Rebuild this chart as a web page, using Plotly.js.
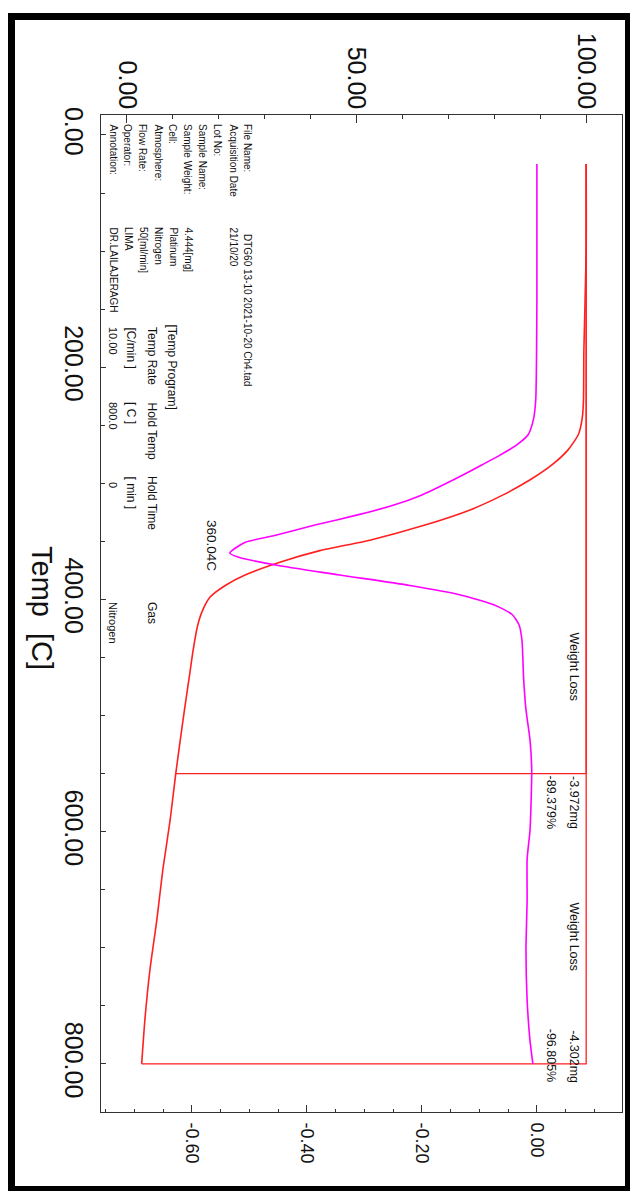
<!DOCTYPE html>
<html><head><meta charset="utf-8">
<script src="https://cdn.plot.ly/plotly-3.0.1.min.js"></script>
<style>
html,body{margin:0;padding:0;background:#fff;}
#wrap{position:relative;width:632px;height:1191px;overflow:hidden;}
#chart{width:632px;height:1191px;}
#frame{position:absolute;left:8px;top:13px;width:622px;height:1178px;box-sizing:border-box;border-style:solid;border-color:#000;border-width:7px 5px 5px 7px;pointer-events:none;}
</style></head><body>
<div id="wrap"><div id="chart"></div><div id="frame"></div></div>
<script>
// ---- data ----
const tgTemp   = [25, 100, 185, 230, 245, 258, 271, 284, 297, 310, 323, 336, 349, 358, 368, 379, 388, 398, 411, 424, 444, 463, 504, 550, 590, 633, 676, 719, 762, 800];
const tgWeight = [100, 100, 99.5, 99.4, 99.1, 98.3, 96.1, 92.6, 87.8, 81.9, 74.7, 64.9, 52.9, 42.0, 33.3, 25.7, 21.4, 18.1, 16.3, 15.3, 14.4, 13.7, 12.2, 10.62, 9.4, 7.8, 6.5, 5.0, 3.9, 3.2];
const dtgTemp  = [25, 142, 228, 245, 258, 267, 276, 284, 297, 310, 319, 327, 336, 345, 351, 360.04, 364, 371, 379, 388, 396, 405, 413, 422, 435, 469, 495, 521, 547, 573, 599, 624, 659, 702, 745, 780, 800];
const dtgValue = [0, 0, -0.002, -0.006, -0.015, -0.035, -0.065, -0.095, -0.145, -0.200, -0.250, -0.310, -0.386, -0.456, -0.508, -0.534, -0.517, -0.447, -0.343, -0.221, -0.134, -0.073, -0.043, -0.031, -0.026, -0.023, -0.019, -0.012, -0.009, -0.010, -0.012, -0.017, -0.017, -0.019, -0.017, -0.012, -0.007];

const tempTicks = [0, 200, 400, 600, 800];
const tempTickLabels = ["0.00", "200.00", "400.00", "600.00", "800.00"];
const weightTicks = [0, 50, 100];
const weightTickLabels = ["0.00", "50.00", "100.00"];
const dtgTicks = [-0.6, -0.4, -0.2, 0];
const dtgTickLabels = ["-0.60", "-0.40", "-0.20", "0.00"];

const lossStartTemp = 25;
const lossStartWeight = 100;
const lossEndTemps = [550, 800];
const lossPercents = [-89.379, -96.805];
const lossMg = ["-3.972mg", "-4.302mg"];
const peakTemp = 360.04;
const peakLabel = "360.04C";

const infoLabels = ["File Name:", "Acquisition Date", "Lot No:", "Sample Name:", "Sample Weight:", "Cell:", "Atmosphere:", "Flow Rate:", "Operator:", "Annotation:"];
const infoValues = ["DTG60 13-10 2021-10-20 Ch4.tad", "21/10/20", "", "", "4.444[mg]", "Platinum", "Nitrogen", "50[ml/min]", "LIMA", "DR.LAILAJERAGH"];
const programTitle = "[Temp Program]";
const programHeaders = ["Temp Rate", "Hold Temp", "Hold Time", "Gas"];
const programUnits = ["[C/min ]", "[ C ]", "[ min ]", ""];
const programValues = ["10.00", "800.0", "0", "Nitrogen"];

// ---- geometry helpers (pixel -> paper) ----
const L = 101, R = 622, T = 115, B = 1112;
const px = v => (v - L) / (R - L);
const py = v => 1 - (v - T) / (B - T);
const FONT = 'Liberation Sans, Arial, sans-serif';

const RED = '#ff2020', MAG = '#ff00ff';
const traces = [
  {x: tgWeight, y: tgTemp, xaxis: 'x', yaxis: 'y', mode: 'lines', line: {color: RED, width: 1.6, shape: 'spline', smoothing: 0.6}, hoverinfo: 'skip'},
  {x: dtgValue, y: dtgTemp, xaxis: 'x2', yaxis: 'y', mode: 'lines', line: {color: MAG, width: 1.6, shape: 'spline', smoothing: 0.6}, hoverinfo: 'skip'}
];
lossEndTemps.forEach((t, i) => {
  traces.push({x: [lossStartWeight, lossStartWeight, lossStartWeight + lossPercents[i]],
               y: [lossStartTemp, t, t], xaxis: 'x', yaxis: 'y', mode: 'lines',
               line: {color: RED, width: 1.3}, hoverinfo: 'skip'});
});

const ann = [];
const txt = (text, xp, yp, size, opts) => ann.push(Object.assign({
  text: text, xref: 'paper', yref: 'paper', x: px(xp), y: py(yp), textangle: 90,
  xanchor: 'center', yanchor: 'top', showarrow: false,
  font: {family: FONT, size: size, color: '#111'}
}, opts || {}));

// axis title
txt("Temp&nbsp;&nbsp;[C]", 42, 608, 29, {yanchor: 'middle'});
// info block
const infoX0 = 248, infoDX = 15;
infoLabels.forEach((s, i) => txt(s, infoX0 - i * infoDX, 122, 10));
infoValues.forEach((s, i) => { if (s) txt(s, infoX0 - i * infoDX, i === 0 ? 232 : 225, 10); });
// temperature program block
txt(programTitle, 172, 322, 12);
const progY = [325, 400, 474, 600];
programHeaders.forEach((s, i) => txt(s, 152, progY[i], 12));
programUnits.forEach((s, i) => { if (s) txt(s, 131, progY[i], 12); });
programValues.forEach((s, i) => txt(s, 113, progY[i] + (i === 2 ? 6 : 0), 11));

// weight loss labels
txt("Weight Loss", 574, 630, 12.5);
txt("Weight Loss", 574, 900, 12.5);
lossEndTemps.forEach((t, i) => {
  const yPos = i === 0 ? {yref: 'y', y: t, yanchor: 'top'} : {yref: 'y', y: 818, yanchor: 'bottom'};
  ann.push(Object.assign({text: lossMg[i], xref: 'paper', x: px(574), textangle: 90, xanchor: 'center',
    showarrow: false, font: {family: FONT, size: 12.5, color: '#111'}}, yPos));
  ann.push(Object.assign({text: lossPercents[i].toFixed(3) + '%', xref: 'paper', x: px(551), textangle: 90, xanchor: 'center',
    showarrow: false, font: {family: FONT, size: 12.5, color: '#111'}}, yPos));
});
// peak label
ann.push({text: peakLabel, xref: 'x2', yref: 'y', x: -0.565, y: peakTemp - 6, textangle: 90,
  xanchor: 'center', yanchor: 'middle', showarrow: false,
  font: {family: FONT, size: 13.5, color: '#111'}});

const axFont = {family: FONT, color: '#111'};
const layout = {
  width: 632, height: 1191,
  margin: {l: L, r: 632 - R, t: T, b: 1191 - B},
  paper_bgcolor: '#fff', plot_bgcolor: '#fff',
  showlegend: false,
  xaxis: {range: [-5.66, 107.8], side: 'top', anchor: 'y', tickvals: weightTicks, ticktext: weightTickLabels,
    tickangle: 90, ticks: 'inside', ticklen: 8, tickcolor: '#333', showline: true, linecolor: '#333', linewidth: 1,
    showgrid: false, zeroline: false, tickfont: Object.assign({size: 25}, axFont), ticklabelstandoff: -4,
    minor: {dtick: 10, tick0: 0, ticks: 'inside', ticklen: 4, tickcolor: '#333', showgrid: false}},
  xaxis2: {range: [-0.758, 0.148], side: 'bottom', overlaying: 'x', anchor: 'y', tickvals: dtgTicks, ticktext: dtgTickLabels,
    tickangle: 90, ticks: 'inside', ticklen: 7, tickcolor: '#333', showline: true, linecolor: '#333', linewidth: 1,
    showgrid: false, zeroline: false, tickfont: Object.assign({size: 18}, axFont), ticklabelstandoff: 6,
    minor: {dtick: 0.05, tick0: 0, ticks: 'inside', ticklen: 3, tickcolor: '#333', showgrid: false}},
  yaxis: {range: [841.5, -17.2], tickvals: tempTicks, ticktext: tempTickLabels, tickangle: 90,
    ticks: 'inside', ticklen: 5, tickcolor: '#333', showline: true, mirror: true, linecolor: '#333', linewidth: 1,
    showgrid: false, zeroline: false, tickfont: Object.assign({size: 25}, axFont), ticklabelstandoff: 5,
    minor: {dtick: 50, tick0: 0, ticks: 'inside', ticklen: 4, tickcolor: '#333', showgrid: false}},
  annotations: ann
};
Plotly.newPlot('chart', traces, layout, {displayModeBar: false, staticPlot: true});
</script>
</body></html>
